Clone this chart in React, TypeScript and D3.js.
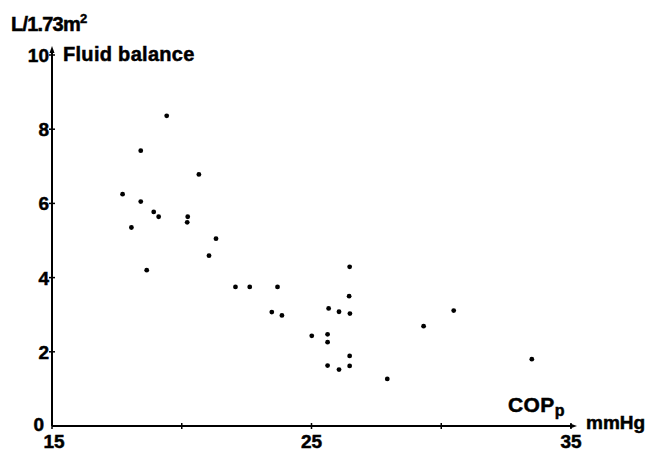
import * as d3 from 'd3';

// COP_p (mmHg) vs fluid balance (L/1.73m2)
const copValues = [
  17.72, 18.06, 18.42, 18.42, 18.65, 18.92, 19.11, 19.42, 20.23, 20.21,
  20.66, 21.05, 21.32, 22.07, 22.62, 23.69, 23.47, 23.86, 26.47, 26.45,
  25.66, 26.06, 26.48, 25.01, 25.62, 25.62, 26.47, 25.62, 26.06, 26.47,
  27.92, 29.32, 30.48, 33.49,
];
const balanceValues = [
  6.25, 5.35, 7.42, 6.05, 4.2, 5.77, 5.64, 8.36, 5.64, 5.49,
  6.78, 4.59, 5.05, 3.75, 3.75, 3.75, 3.07, 2.98, 4.29, 3.5,
  3.17, 3.08, 3.03, 2.43, 2.47, 2.26, 1.89, 1.63, 1.52, 1.62,
  1.27, 2.69, 3.11, 1.8,
];

const xTicks = [15, 20, 25, 30, 35];
const xTickLabels = [15, 25, 35];
const yTicks = [2, 4, 6, 8, 10];
const yTickLabels = [0, 2, 4, 6, 8, 10];

const font = '"Liberation Sans", Arial, sans-serif';

export default function App() {
  const width = 648;
  const height = 452;

  const x = d3.scaleLinear().domain([15, 35]).range([52, 571]);
  const y = d3.scaleLinear().domain([0, 10]).range([426, 55]);

  const points = copValues.map((c, i) => ({ c, b: balanceValues[i] }));

  const x0 = x(15);
  const y0 = y(0);
  const xEnd = x(35) + 3;
  const yEnd = y(10) - 6;

  return (
    <svg
      width={width}
      height={height}
      style={{ position: 'absolute', left: 0, top: 0, background: '#fff' }}
      fontFamily={font}
      fontWeight="bold"
      stroke="none"
    >
      {/* axes */}
      <line x1={x0} x2={xEnd} y1={y0} y2={y0} stroke="#000" strokeWidth={2} />
      <line x1={x0} x2={x0} y1={y0} y2={yEnd} stroke="#000" strokeWidth={2} />
      <path d={`M${xEnd + 3},${y0} L${xEnd - 4},${y0 - 2.5} L${xEnd - 4},${y0 + 2.5} Z`} fill="#000" />
      <path d={`M${x0},${yEnd - 3} L${x0 - 2.5},${yEnd + 4} L${x0 + 2.5},${yEnd + 4} Z`} fill="#000" />

      {xTicks.map(t => (
        <line key={'xt' + t} x1={x(t)} x2={x(t)} y1={y0 - 3} y2={y0 + 3} stroke="#000" strokeWidth={1.5} />
      ))}
      {yTicks.map(t => (
        <line key={'yt' + t} x1={x0 - 3} x2={x0 + 3} y1={y(t)} y2={y(t)} stroke="#000" strokeWidth={1.5} />
      ))}

      <g stroke="#000" strokeWidth={0.5}>
        {xTickLabels.map(t => (
          <text key={'xl' + t} x={t === 15 ? x(t) + 2 : x(t)} y={448} textAnchor="middle" fontSize={19}>
            {t}
          </text>
        ))}
        {yTickLabels.map(t => (
          <text
            key={'yl' + t}
            x={t === 0 ? x0 - 8 : x0 - 3}
            y={t === 0 ? y(t) + 5 : y(t) + 7}
            textAnchor="end"
            fontSize={19}
          >
            {t}
          </text>
        ))}

        {/* titles */}
        <text x={11} y={31} fontSize={20} letterSpacing={-0.8}>
          L/1.73m<tspan fontSize={13} dy={-8}>2</tspan>
        </text>
        <text x={63} y={61} fontSize={20} letterSpacing={0.3}>Fluid balance</text>
        <text x={508} y={412} fontSize={21} letterSpacing={0.4}>
          COP<tspan fontSize={16} dy={4}>p</tspan>
        </text>
        <text x={586} y={429} fontSize={19}>mmHg</text>
      </g>

      {/* data */}
      {points.map((p, i) => (
        <circle key={i} cx={x(p.c)} cy={y(p.b)} r={2.4} fill="#000" />
      ))}
    </svg>
  );
}
